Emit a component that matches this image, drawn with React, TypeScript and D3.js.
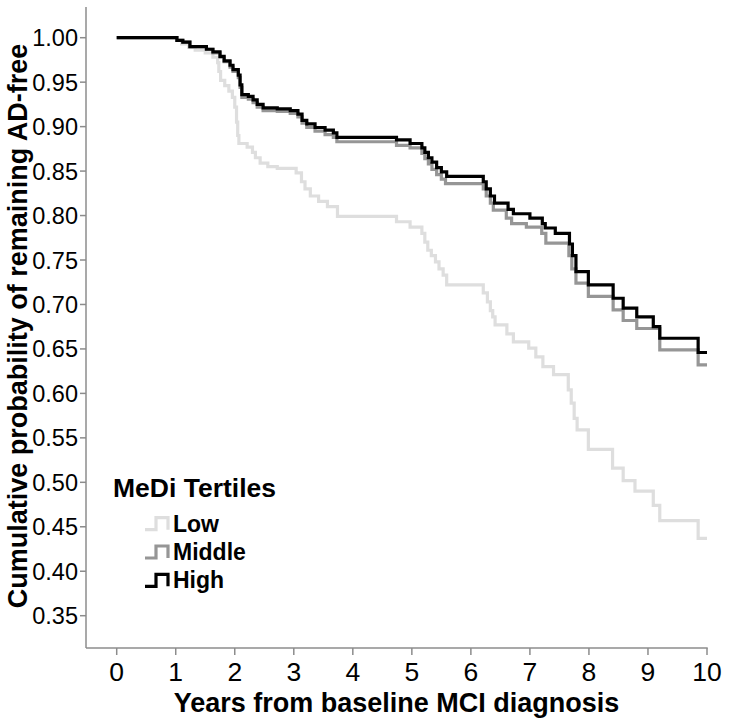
import React from "react";
import * as d3 from "d3";

// Kaplan-Meier step data: [years, cumulative probability]
const lowTimes = [0, 1.02, 1.10, 1.22, 1.33, 1.50, 1.63, 1.71, 1.73, 1.76, 1.83, 1.90, 1.96, 2.00, 2.03, 2.05, 2.07, 2.21, 2.30, 2.35, 2.43, 2.56, 2.72, 3.04, 3.13, 3.19, 3.28, 3.42, 3.57, 3.74, 4.74, 4.97, 5.17, 5.22, 5.27, 5.33, 5.40, 5.46, 5.53, 5.59, 6.21, 6.28, 6.33, 6.37, 6.41, 6.61, 6.72, 6.98, 7.10, 7.22, 7.40, 7.65, 7.70, 7.75, 7.80, 7.99, 8.40, 8.58, 8.78, 9.09, 9.20, 9.85, 10.0];
const lowValues = [1.0, 0.997, 0.993, 0.989, 0.986, 0.983, 0.978, 0.972, 0.962, 0.952, 0.946, 0.940, 0.933, 0.922, 0.905, 0.890, 0.881, 0.877, 0.871, 0.865, 0.859, 0.855, 0.853, 0.848, 0.838, 0.830, 0.822, 0.816, 0.810, 0.799, 0.793, 0.787, 0.780, 0.770, 0.761, 0.755, 0.748, 0.740, 0.733, 0.722, 0.713, 0.703, 0.693, 0.686, 0.677, 0.667, 0.658, 0.651, 0.641, 0.630, 0.621, 0.604, 0.589, 0.572, 0.559, 0.537, 0.516, 0.502, 0.490, 0.474, 0.457, 0.437, 0.437];

const middleTimes = [0, 1.02, 1.12, 1.24, 1.52, 1.63, 1.75, 1.82, 1.92, 1.97, 2.06, 2.09, 2.12, 2.23, 2.31, 2.38, 2.48, 2.72, 2.94, 3.07, 3.14, 3.22, 3.36, 3.53, 3.67, 3.73, 4.74, 4.97, 5.17, 5.22, 5.28, 5.34, 5.42, 5.50, 5.57, 6.21, 6.26, 6.33, 6.38, 6.60, 6.69, 6.94, 7.20, 7.27, 7.66, 7.71, 7.78, 7.99, 8.41, 8.58, 8.81, 9.20, 9.85, 10.0];
const middleValues = [1.0, 0.997, 0.995, 0.990, 0.987, 0.983, 0.978, 0.973, 0.967, 0.962, 0.955, 0.944, 0.933, 0.931, 0.927, 0.922, 0.918, 0.917, 0.915, 0.911, 0.904, 0.899, 0.895, 0.891, 0.888, 0.883, 0.879, 0.876, 0.870, 0.864, 0.858, 0.852, 0.846, 0.841, 0.836, 0.830, 0.822, 0.814, 0.806, 0.797, 0.791, 0.787, 0.780, 0.769, 0.755, 0.740, 0.724, 0.709, 0.694, 0.682, 0.673, 0.649, 0.632, 0.632];

const highTimes = [0, 1.02, 1.12, 1.24, 1.52, 1.63, 1.75, 1.82, 1.92, 1.97, 2.06, 2.09, 2.12, 2.23, 2.31, 2.38, 2.48, 2.72, 2.94, 3.07, 3.14, 3.22, 3.36, 3.53, 3.67, 3.73, 4.74, 4.97, 5.17, 5.22, 5.28, 5.34, 5.42, 5.50, 5.59, 6.21, 6.26, 6.33, 6.40, 6.63, 6.72, 7.00, 7.21, 7.26, 7.43, 7.67, 7.72, 7.78, 7.99, 8.41, 8.58, 8.81, 9.09, 9.20, 9.85, 10.0];
const highValues = [1.0, 0.997, 0.995, 0.990, 0.987, 0.984, 0.979, 0.974, 0.969, 0.964, 0.958, 0.947, 0.936, 0.934, 0.930, 0.925, 0.921, 0.920, 0.918, 0.914, 0.907, 0.903, 0.899, 0.896, 0.893, 0.888, 0.885, 0.881, 0.876, 0.871, 0.865, 0.860, 0.854, 0.849, 0.844, 0.838, 0.830, 0.822, 0.814, 0.807, 0.802, 0.797, 0.791, 0.786, 0.780, 0.768, 0.755, 0.737, 0.722, 0.707, 0.696, 0.686, 0.675, 0.662, 0.646, 0.646];

const seriesNames = ["Low", "Middle", "High"];
const seriesColors = ["#dedede", "#969696", "#000000"];

const xTicks = [0, 1, 2, 3, 4, 5, 6, 7, 8, 9, 10];
const yTicks = [0.35, 0.4, 0.45, 0.5, 0.55, 0.6, 0.65, 0.7, 0.75, 0.8, 0.85, 0.9, 0.95, 1.0];

const xTitle = "Years from baseline MCI diagnosis";
const yTitle = "Cumulative probability of remaining AD-free";
const legendTitle = "MeDi Tertiles";

const FONT = "Arial, 'Liberation Sans', sans-serif";

export default function App() {
  const W = 729;
  const H = 725;
  const x = d3.scaleLinear().domain([0, 10]).range([116.7, 707]);
  const y = d3.scaleLinear().domain([0.35, 1.0]).range([615.7, 37.7]);
  const axisLeft = 86;
  const axisBottom = 648;
  const axisTop = 7;
  const axisRight = 707.7;

  const line = d3
    .line<[number, number]>()
    .x((d) => x(d[0]))
    .y((d) => y(d[1]))
    .curve(d3.curveStepAfter);

  const series = [
    lowTimes.map((t, i) => [t, lowValues[i]] as [number, number]),
    middleTimes.map((t, i) => [t, middleValues[i]] as [number, number]),
    highTimes.map((t, i) => [t, highValues[i]] as [number, number]),
  ];

  const axisColor = "#8c8c8c";
  const legendBaselines = [531.7, 560, 588.3];

  return (
    <svg
      width={W}
      height={H}
      style={{ position: "absolute", left: 0, top: 0, background: "#fff" }}
      fontFamily={FONT}
    >
      <rect x={0} y={0} width={W} height={H} fill="#fff" />
      {/* axes */}
      <line x1={axisLeft} y1={axisTop} x2={axisLeft} y2={axisBottom} stroke={axisColor} strokeWidth={1.5} />
      <line x1={axisLeft} y1={axisBottom} x2={axisRight} y2={axisBottom} stroke={axisColor} strokeWidth={1.5} />
      {yTicks.map((v) => (
        <g key={"y" + v}>
          <line x1={axisLeft - 6} x2={axisLeft} y1={y(v)} y2={y(v)} stroke={axisColor} strokeWidth={1.5} />
          <text x={axisLeft - 8} y={y(v) + 8.5} textAnchor="end" fontSize={23.5} fill="#000">
            {v.toFixed(2)}
          </text>
        </g>
      ))}
      {xTicks.map((v) => (
        <g key={"x" + v}>
          <line x1={x(v)} x2={x(v)} y1={axisBottom} y2={axisBottom + 7} stroke={axisColor} strokeWidth={1.5} />
          <text x={x(v)} y={681} textAnchor="middle" fontSize={26.5} fill="#000">
            {v}
          </text>
        </g>
      ))}
      <text x={(178 + 615) / 2} y={712} textAnchor="middle" fontSize={27} fontWeight="bold" fill="#000">
        {xTitle}
      </text>
      <text
        transform={`translate(27, 326) rotate(-90)`}
        textAnchor="middle"
        fontSize={27}
        fontWeight="bold"
        fill="#000"
      >
        {yTitle}
      </text>
      {/* curves */}
      {series.map((s, i) => (
        <path key={seriesNames[i]} d={line(s) || ""} fill="none" stroke={seriesColors[i]} strokeWidth={3.2} />
      ))}
      {/* legend */}
      <text x={113} y={497} fontSize={26.5} fontWeight="bold" fill="#000">
        {legendTitle}
      </text>
      {seriesNames.map((n, i) => {
        const b = legendBaselines[i];
        return (
          <g key={"leg" + n}>
            <path
              d={`M145,${b - 2} H156 V${b - 14} H168 V${b - 2}`}
              fill="none"
              stroke={seriesColors[i]}
              strokeWidth={3.2}
            />
            <text x={173} y={b} fontSize={23} fontWeight="bold" fill="#000">
              {n}
            </text>
          </g>
        );
      })}
    </svg>
  );
}
